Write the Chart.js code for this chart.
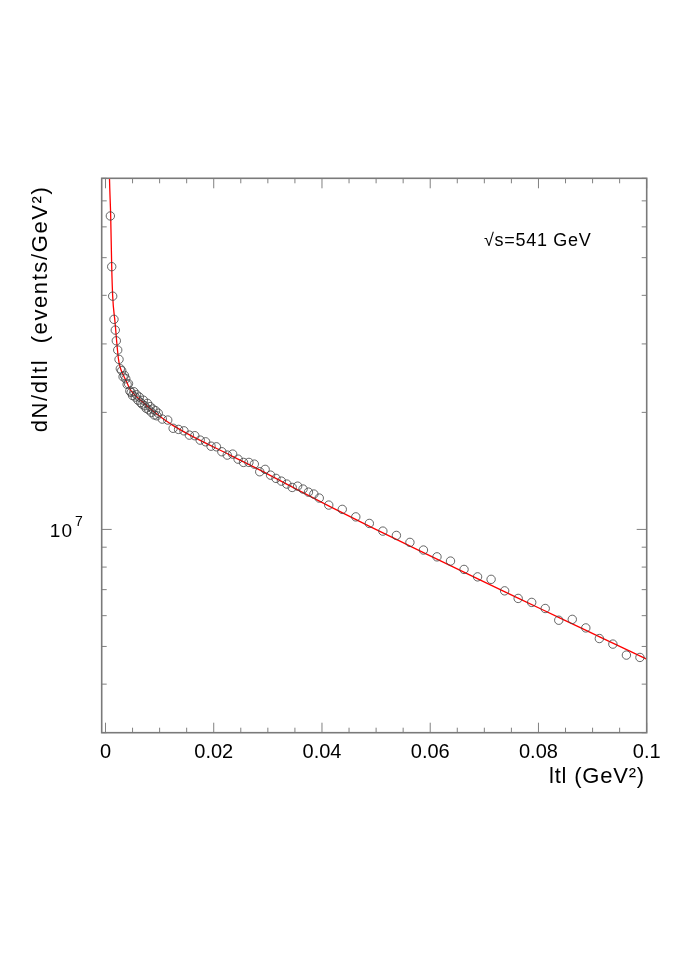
<!DOCTYPE html>
<html>
<head>
<meta charset="utf-8">
<script src="https://cdn.jsdelivr.net/npm/chart.js@4.4.1/dist/chart.umd.min.js"></script>
<style>
  html, body { margin: 0; padding: 0; background: #ffffff; }
  canvas { display: block; }
</style>
</head>
<body>
<canvas id="c" width="678" height="959"></canvas>
<script>
// ---- data ----
const dataT = [
  0.0009, 0.00115, 0.00133, 0.00157, 0.00181, 0.002, 0.00226, 0.0025, 0.00274,
  0.003, 0.00325, 0.0035, 0.00375, 0.004, 0.00425, 0.0045, 0.00475, 0.005, 0.00525,
  0.0055, 0.00575, 0.006, 0.00625, 0.0065, 0.00675, 0.007, 0.00725, 0.0075, 0.00775,
  0.008, 0.00825, 0.0085, 0.00875, 0.009, 0.00925, 0.0095, 0.00975,
  0.0105, 0.0115, 0.0125, 0.0135, 0.0145, 0.0155,
  0.0165, 0.0175, 0.0185, 0.0195, 0.0205, 0.0215, 0.0225, 0.0235, 0.0245, 0.0255,
  0.0265, 0.0275, 0.0285, 0.0295, 0.0305, 0.0315, 0.0325, 0.0335, 0.0345, 0.0355,
  0.0365, 0.0375, 0.0385, 0.0395,
  0.04125, 0.04375, 0.04625, 0.04875, 0.05125, 0.05375, 0.05625, 0.05875, 0.06125,
  0.06375, 0.06625, 0.06875, 0.07125, 0.07375, 0.07625, 0.07875, 0.08125, 0.08375,
  0.08625, 0.08875, 0.09125, 0.09375, 0.09625, 0.09875
];
const dataN = [
  6.40e7, 4.74e7, 3.98e7, 3.47e7, 3.256e7, 3.056e7, 2.893e7, 2.737e7, 2.589e7,
  2.56e7, 2.47e7, 2.49e7, 2.44e7, 2.36e7, 2.37e7, 2.27e7, 2.25e7, 2.21e7, 2.26e7,
  2.19e7, 2.22e7, 2.15e7, 2.19e7, 2.12e7, 2.10e7, 2.15e7, 2.08e7, 2.05e7, 2.11e7,
  2.03e7, 2.07e7, 2.00e7, 2.04e7, 1.97e7, 2.02e7, 1.96e7, 1.99e7,
  1.922e7, 1.911e7, 1.82e7, 1.808e7, 1.793e7, 1.748e7,
  1.742e7, 1.697e7, 1.680e7, 1.637e7, 1.631e7, 1.584e7, 1.553e7, 1.562e7, 1.516e7, 1.487e7,
  1.487e7, 1.472e7, 1.407e7, 1.427e7, 1.379e7, 1.353e7, 1.331e7, 1.308e7, 1.282e7, 1.292e7,
  1.270e7, 1.247e7, 1.233e7, 1.204e7,
  1.155e7, 1.126e7, 1.077e7, 1.036e7, 0.990e7, 0.965e7, 0.926e7, 0.885e7, 0.850e7,
  0.829e7, 0.789e7, 0.755e7, 0.744e7, 0.695e7, 0.6645e7, 0.649e7, 0.626e7, 0.584e7,
  0.587e7, 0.558e7, 0.524e7, 0.507e7, 0.475e7, 0.4685e7
];
// fitted curve
const fitT = [
  0.00065, 0.00074, 0.00096, 0.00115, 0.00133, 0.00176, 0.00237, 0.00268, 0.00329,
  0.00392, 0.00453, 0.00514, 0.00601, 0.00699, 0.00823, 0.00946, 0.011, 0.01253,
  0.01562, 0.02301, 0.02856, 0.03471, 0.0415, 0.04889, 0.05628, 0.06861, 0.07662,
  0.08401, 0.0914, 0.1
];
const fitN = [
  9.5e7, 8.0e7, 6.40e7, 4.74e7, 3.98e7, 3.415e7, 2.76e7, 2.62e7, 2.495e7,
  2.393e7, 2.296e7, 2.239e7, 2.177e7, 2.12e7, 2.046e7, 1.980e7, 1.911e7, 1.849e7,
  1.748e7, 1.553e7, 1.421e7, 1.281e7, 1.145e7, 1.017e7, 9.06e6, 7.48e6, 6.62e6,
  5.916e6, 5.286e6, 4.637e6
];
const xTickValues = [0, 0.02, 0.04, 0.06, 0.08, 0.1];
const xTickLabels = ['0', '0.02', '0.04', '0.06', '0.08', '0.1'];
const xMinorStep = 0.005;
const yMinorTicks = [3e6, 4e6, 5e6, 6e6, 7e6, 8e6, 9e6, 2e7, 3e7, 4e7, 5e7, 6e7, 7e7, 8e7];
const yMajorTicks = [1e7];
const yMajorBase = '10';
const yMajorExp = '7';
const xTitle = 'ltl (GeV\u00B2)';
const yTitle = 'dN/dltl  (events/GeV\u00B2)';
const annotation = '\u221As=541 GeV';

const points = dataT.map((t, i) => ({ x: t, y: dataN[i] }));
const fit = fitT.map((t, i) => ({ x: t, y: fitN[i] }));

const FONT = '"Liberation Sans", Arial, Helvetica, sans-serif';

const framePlugin = {
  id: 'frame',
  afterDraw(chart) {
    const ctx = chart.ctx;
    const a = chart.chartArea;
    const xs = chart.scales.x, ys = chart.scales.y;
    ctx.save();
    // ticks (inside the frame, on all four sides)
    ctx.strokeStyle = '#808080';
    ctx.lineWidth = 1;
    ctx.beginPath();
    for (let k = 0; k <= Math.round(0.1 / xMinorStep); k++) {
      const v = k * xMinorStep;
      const px = xs.getPixelForValue(v);
      const major = xTickValues.some(m => Math.abs(m - v) < 1e-9);
      const len = major ? 10 : 5;
      ctx.moveTo(px, a.bottom); ctx.lineTo(px, a.bottom - len);
      ctx.moveTo(px, a.top); ctx.lineTo(px, a.top + len);
    }
    const drawY = (v, len) => {
      const py = ys.getPixelForValue(v);
      ctx.moveTo(a.left, py); ctx.lineTo(a.left + len, py);
      ctx.moveTo(a.right, py); ctx.lineTo(a.right - len, py);
    };
    yMinorTicks.forEach(v => drawY(v, 5));
    yMajorTicks.forEach(v => drawY(v, 10));
    ctx.stroke();
    // frame
    ctx.strokeStyle = '#7a7a7a';
    ctx.lineWidth = 1.6;
    ctx.strokeRect(a.left, a.top, a.right - a.left, a.bottom - a.top);

    // y major label 10^7
    ctx.fillStyle = '#000';
    const py = ys.getPixelForValue(yMajorTicks[0]);
    ctx.font = '19px ' + FONT;
    ctx.textAlign = 'right';
    ctx.textBaseline = 'alphabetic';
    try { ctx.letterSpacing = '1px'; } catch (e) {}
    ctx.fillText(yMajorBase, 73, py + 8);
    ctx.font = '14px ' + FONT;
    ctx.textAlign = 'left';
    ctx.fillText(yMajorExp, 75, py - 3);

    // annotation
    ctx.font = '18px ' + FONT;
    ctx.textAlign = 'left';
    ctx.textBaseline = 'middle';
    try { ctx.letterSpacing = '0.7px'; } catch (e) {}
    ctx.fillText(annotation, 484, 241);

    // x title
    ctx.font = '22px ' + FONT;
    ctx.textAlign = 'right';
    try { ctx.letterSpacing = '0.8px'; } catch (e) {}
    ctx.fillText(xTitle, 645, 777);

    // y title
    ctx.translate(41, 309);
    ctx.rotate(-Math.PI / 2);
    ctx.textAlign = 'center';
    ctx.font = '22px ' + FONT;
    try { ctx.letterSpacing = '1.6px'; } catch (e) {}
    ctx.fillText(yTitle, 0, 0);
    ctx.restore();
  }
};

new Chart(document.getElementById('c'), {
  type: 'scatter',
  data: {
    datasets: [
      {
        label: 'fit',
        data: fit,
        showLine: true,
        borderColor: '#ff0000',
        borderWidth: 1.3,
        pointRadius: 0,
        cubicInterpolationMode: 'monotone',
        fill: false,
        order: 2
      },
      {
        label: 'data',
        data: points,
        showLine: false,
        pointStyle: 'circle',
        pointRadius: 4.2,
        borderColor: '#404040',
        borderWidth: 0.8,
        backgroundColor: 'rgba(0,0,0,0)',
        order: 1
      }
    ]
  },
  options: {
    responsive: false,
    animation: false,
    devicePixelRatio: 1,
    layout: { padding: { top: 178.3, right: 31.3, left: 0, bottom: 0 } },
    plugins: { legend: { display: false }, tooltip: { enabled: false } },
    scales: {
      x: {
        type: 'linear',
        min: -0.0007,
        max: 0.1,
        afterFit(s) { s.height = 959 - 732.7; },
        afterBuildTicks(s) { s.ticks = xTickValues.map(v => ({ value: v })); },
        grid: { display: false, drawTicks: false },
        border: { display: false },
        ticks: {
          autoSkip: false,
          maxRotation: 0,
          padding: 8,
          color: '#000',
          font: { family: FONT, size: 20 },
          callback(v) {
            const i = xTickValues.findIndex(m => Math.abs(m - v) < 1e-9);
            return i >= 0 ? xTickLabels[i] : '';
          }
        }
      },
      y: {
        type: 'logarithmic',
        min: 3e6,
        max: 8e7,
        afterFit(s) { s.width = 101.7; },
        grid: { display: false, drawTicks: false },
        border: { display: false },
        ticks: { display: false }
      }
    }
  },
  plugins: [framePlugin]
});
</script>
</body>
</html>
